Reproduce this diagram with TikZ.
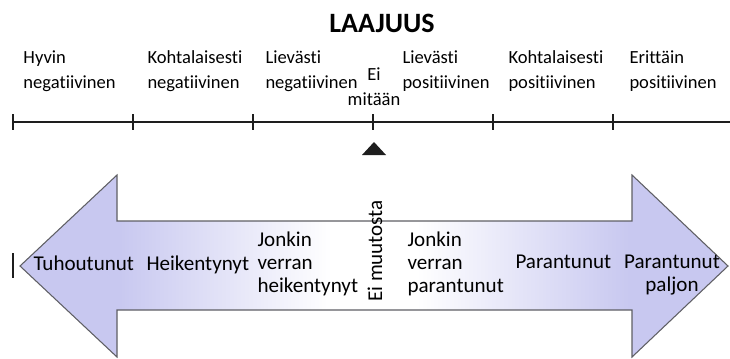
\documentclass[tikz,border=0pt]{standalone}
\usepackage{fontspec}
\setmainfont{Carlito}[Ligatures=NoCommon]
\definecolor{arrowend}{RGB}{200,200,240}
\definecolor{arrowedge}{RGB}{95,95,100}
\definecolor{markgray}{RGB}{30,30,30}
\pgfdeclarehorizontalshading{arrowfill}{100bp}{color(0bp)=(arrowend); color(25bp)=(arrowend); color(32bp)=(arrowend); color(47bp)=(white); color(53bp)=(white); color(68bp)=(arrowend); color(75bp)=(arrowend); color(100bp)=(arrowend)}
\tikzset{every picture/.style={line width=0.75pt}}
\tikzset{
  toplabel/.style={anchor=base west, inner sep=0pt, align=left, font=\fontsize{13.9}{18.75}\selectfont},
  lowlabel/.style={anchor=base west, inner sep=0pt, align=left, font=\fontsize{15.8}{17}\selectfont},
  tickline/.style={line width=1.5pt, color=markgray},
  arrowline/.style={draw=arrowedge, line width=0.8pt, shading=arrowfill}
}

\begin{document}
\begin{tikzpicture}[x=0.75pt,y=0.75pt,yscale=-1,xscale=1]
\useasboundingbox (0,0) rectangle (730,358);

% Title
\node (title) [anchor=base, inner sep=0pt, font=\fontsize{21}{25}\selectfont\bfseries] at (382,32) {LAAJUUS};

% Scale line with ticks
\foreach \i/\x in {0/13,1/133,2/253,3/373,4/493,5/613} {
  \coordinate (t\i) at (\x,122);
  \draw [tickline] (t\i) ++(0,-8) -- ++(0,16);
}
\coordinate (axisend) at (730,122);
\draw [tickline] (t0) -- (axisend);

% Scale labels (base = last line)
\node (hyvneg) [toplabel] at (23,88) {Hyvin\\negatiivinen};
\node (kohneg) [toplabel] at (147,88) {Kohtalaisesti\\negatiivinen};
\node (lievneg) [toplabel] at (265,88) {Lievästi\\negatiivinen};
\node (eimit) [toplabel, anchor=base, align=center] at (374,105) {Ei\\mitään};
\node (lievpos) [toplabel] at (402,88) {Lievästi\\positiivinen};
\node (kohpos) [toplabel] at (508,88) {Kohtalaisesti\\positiivinen};
\node (eritpos) [toplabel] at (629,88) {Erittäin\\positiivinen};

% Marker
\fill [markgray] (362,155) -- (386,155) -- (374,142) -- cycle;

% Double arrow
\shadedraw [arrowline] (20,266) -- (117,175) -- (117,221) -- (632,221) -- (632,175) -- (728,266) -- (632,357) -- (632,310) -- (117,310) -- (117,357) -- cycle;
\draw [tickline] (13,253) -- (13,278);

% Arrow labels
\node (tuho) [lowlabel] at (33,270) {Tuhoutunut};
\node (heik) [lowlabel] at (146,270) {Heikentynyt};
\node (jvheik) [lowlabel] at (257,292) {Jonkin\\verran\\heikentynyt};
\node (eimuut) [lowlabel, anchor=center, rotate=90] at (375,251) {Ei muutosta};
\node (jvpar) [lowlabel] at (407,292) {Jonkin\\verran\\parantunut};
\node (par) [lowlabel] at (515,268) {Parantunut};
\node (parpal) [lowlabel, anchor=base, align=center] at (672,291) {Parantunut\\paljon};

\end{tikzpicture}
\end{document}
